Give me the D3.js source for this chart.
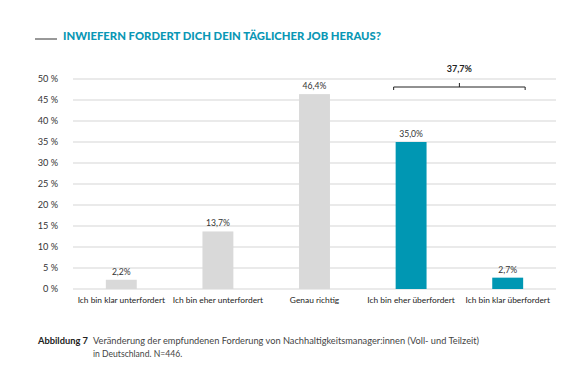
<!DOCTYPE html>
<html><head><meta charset="utf-8">
<script src="https://cdn.jsdelivr.net/npm/d3@7"></script>
<style>body{margin:0;background:#fff}svg{display:block}text{font-family:Lato,"Open Sans",sans-serif}</style>
</head><body>
<script>
const categories = ["Ich bin klar unterfordert","Ich bin eher unterfordert","Genau richtig","Ich bin eher überfordert","Ich bin klar überfordert"];
const values = [2.2, 13.7, 46.4, 35.0, 2.7];
const labels = ["2,2%","13,7%","46,4%","35,0%","2,7%"];
const highlight = [false,false,false,true,true];
const yTicks = [0,5,10,15,20,25,30,35,40,45,50];
const bracketLabel = "37,7%";
const bracketFrom = 3, bracketTo = 4;

const W=578,H=389;
const svg=d3.select("body").append("svg").attr("width",W).attr("height",H);
const x=d3.scaleBand().domain(categories).range([73,556]).paddingInner(0.68).paddingOuter(0.34);
const y=d3.scaleLinear().domain([0,50]).range([289,79]);

// title
svg.append("line").attr("x1",35).attr("x2",57).attr("y1",39).attr("y2",39).attr("stroke","#333").attr("stroke-width",1);
svg.append("text").attr("x",63).attr("y",39.5).attr("fill","#0a97b5").attr("font-size",10.5).attr("font-weight",900)
  .attr("textLength",318).attr("lengthAdjust","spacingAndGlyphs").text("INWIEFERN FORDERT DICH DEIN TÄGLICHER JOB HERAUS?");

// grid
const g=svg.append("g");
g.selectAll("line.grid").data(yTicks).join("line").attr("class","grid")
  .attr("x1",73).attr("x2",556).attr("y1",d=>y(d)).attr("y2",d=>y(d))
  .attr("stroke","#e3e3e3").attr("stroke-width",1.5);
g.selectAll("text.yt").data(yTicks).join("text").attr("class","yt")
  .attr("x",58).attr("y",d=>y(d)+3.2).attr("text-anchor","end").attr("font-size",9.2).attr("fill","#333")
  .text(d=>d+" %");

// bars
g.selectAll("rect.bar").data(values).join("rect").attr("class","bar")
  .attr("x",(d,i)=>x(categories[i])).attr("width",x.bandwidth())
  .attr("y",d=>y(d)).attr("height",d=>y(0)-y(d))
  .attr("fill",(d,i)=>highlight[i]?"#0097b3":"#d9d9d9");
g.selectAll("text.val").data(values).join("text").attr("class","val")
  .attr("x",(d,i)=>x(categories[i])+x.bandwidth()/2).attr("y",d=>y(d)-5)
  .attr("text-anchor","middle").attr("font-size",8.6).attr("fill","#333").text((d,i)=>labels[i]);

// x labels
g.selectAll("text.xl").data(categories).join("text").attr("class","xl")
  .attr("x",d=>x(d)+x.bandwidth()/2).attr("y",303).attr("text-anchor","middle")
  .attr("font-size",8.4).attr("fill","#222").text(d=>d);

// bracket
const bx1=x(categories[bracketFrom])-2, bx2=x(categories[bracketTo])+x.bandwidth()+2, bm=(bx1+bx2)/2, by=87;
svg.append("path").attr("d",`M${bx1},${by+3}V${by}H${bx2}V${by+3}M${bm},${by}V${by-4}`)
  .attr("fill","none").attr("stroke","#222").attr("stroke-width",1);
svg.append("text").attr("x",bm).attr("y",72).attr("text-anchor","middle").attr("font-size",9).attr("font-weight",700).attr("fill","#222").text(bracketLabel);

// caption
svg.append("text").attr("x",38).attr("y",344).attr("font-size",8.8).attr("font-weight",700).attr("fill","#222")
  .attr("textLength",50).attr("lengthAdjust","spacingAndGlyphs").text("Abbildung 7");
svg.append("text").attr("x",93).attr("y",344).attr("font-size",8.6).attr("fill","#444")
  .attr("textLength",386).attr("lengthAdjust","spacingAndGlyphs")
  .text("Veränderung der empfundenen Forderung von Nachhaltigkeitsmanager:innen (Voll- und Teilzeit)");
svg.append("text").attr("x",93).attr("y",357).attr("font-size",8.6).attr("fill","#444").text("in Deutschland. N=446.");
</script>
</body></html>
